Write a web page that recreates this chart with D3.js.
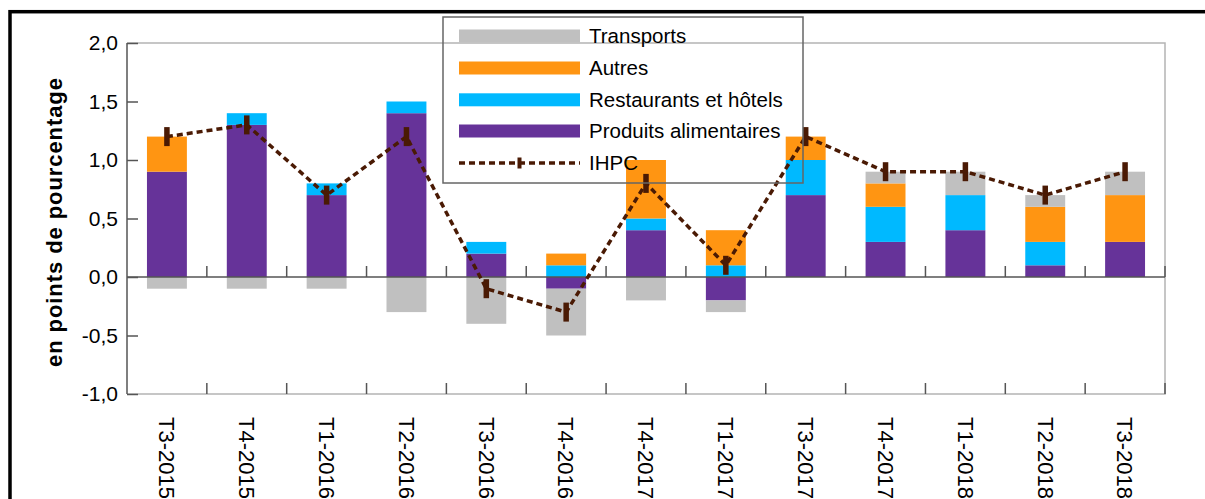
<!DOCTYPE html>
<html>
<head>
<meta charset="utf-8">
<script src="https://cdn.jsdelivr.net/npm/d3@7"></script>
<style>
  html, body { margin: 0; padding: 0; background: #fff; }
  svg { display: block; font-family: "Liberation Sans", Arial, sans-serif; }
</style>
</head>
<body>
<svg id="chart" width="1205" height="499"></svg>
<script>
// ---- data ----
const categories = ["T3-2015","T4-2015","T1-2016","T2-2016","T3-2016","T4-2016","T4-2017","T1-2017","T3-2017","T4-2017","T1-2018","T2-2018","T3-2018"];
const produits    = [0.9, 1.3, 0.7, 1.4, 0.2, -0.1, 0.4, -0.2, 0.7, 0.3, 0.4, 0.1, 0.3];
const restaurants = [0.0, 0.1, 0.1, 0.1, 0.1, 0.1, 0.1, 0.1, 0.3, 0.3, 0.3, 0.2, 0.0];
const autres      = [0.3, 0.0, 0.0, 0.0, 0.0, 0.1, 0.5, 0.3, 0.2, 0.2, 0.0, 0.3, 0.4];
const transports  = [-0.1, -0.1, -0.1, -0.3, -0.4, -0.4, -0.2, -0.1, 0.0, 0.1, 0.2, 0.1, 0.2];
const ihpc        = [1.2, 1.3, 0.7, 1.2, -0.1, -0.3, 0.8, 0.1, 1.2, 0.9, 0.9, 0.7, 0.9];
const yTicks      = [-1.0, -0.5, 0.0, 0.5, 1.0, 1.5, 2.0];
const seriesNames = ["Produits alimentaires", "Restaurants et hôtels", "Autres", "Transports"];
const seriesColors = ["#663399", "#00b9ff", "#ff9512", "#c0c0c0"];
const legendOrder = ["Transports", "Autres", "Restaurants et hôtels", "Produits alimentaires"];
const lineName = "IHPC";
const lineColor = "#4a1a04";

const seriesValues = [produits, restaurants, autres, transports];

// ---- layout ----
const svg = d3.select("#chart");
const pLeft = 127, pRight = 1165, pTop = 43, pBottom = 394;

const x = d3.scaleBand().domain(d3.range(categories.length)).range([pLeft, pRight]).paddingInner(0.5).paddingOuter(0.25);
const y = d3.scaleLinear().domain([-1, 2]).range([pBottom, pTop]);

// outer frame
svg.append("rect").attr("x", 10).attr("y", 11.7).attr("width", 1230).attr("height", 520)
  .attr("fill", "none").attr("stroke", "#000").attr("stroke-width", 3.5);

// plot border (light gray)
svg.append("path")
  .attr("d", `M${pLeft},${pTop}H${pRight}V${pBottom}H${pLeft}`)
  .attr("fill", "none").attr("stroke", "#b4b4b4").attr("stroke-width", 1.5);

// bars (stacked, positives up, negatives down)
const stacks = categories.map((c, i) => {
  let pos = 0, neg = 0;
  return seriesValues.map((vals, s) => {
    const v = vals[i];
    let y0, y1;
    if (v >= 0) { y0 = pos; y1 = pos + v; pos = y1; }
    else { y0 = neg; y1 = neg + v; neg = y1; }
    return { i, s, y0, y1, v };
  });
}).flat().filter(d => d.v !== 0);

svg.append("g").selectAll("rect").data(stacks).join("rect")
  .attr("x", d => x(d.i))
  .attr("width", x.bandwidth())
  .attr("y", d => y(Math.max(d.y0, d.y1)))
  .attr("height", d => Math.abs(y(d.y0) - y(d.y1)))
  .attr("fill", d => seriesColors[d.s]);

// left axis line
svg.append("line").attr("x1", pLeft).attr("x2", pLeft).attr("y1", pTop).attr("y2", pBottom)
  .attr("stroke", "#555").attr("stroke-width", 1.5);
// zero line
svg.append("line").attr("x1", pLeft).attr("x2", pRight).attr("y1", y(0)).attr("y2", y(0))
  .attr("stroke", "#555").attr("stroke-width", 1.5);

// y ticks (inward) and labels
const yAxis = d3.axisRight(y).tickValues(yTicks).tickSize(11)
  .tickFormat(d => d3.format(".1f")(d).replace(".", ",").replace("\u2212", "-"));
const gy = svg.append("g").attr("transform", `translate(${pLeft},0)`).call(yAxis);
gy.select(".domain").remove();
gy.selectAll(".tick line").attr("stroke", "#555").attr("stroke-width", 1.5);
gy.selectAll(".tick text")
  .attr("x", -9).attr("text-anchor", "end")
  .attr("font-size", "21px").attr("fill", "#000")
  .attr("font-family", "Liberation Sans, Arial, sans-serif");

// x boundary ticks (inward from zero line and from bottom)
const boundaryX = d3.range(1, categories.length + 1).map(k => pLeft + k * (pRight - pLeft) / categories.length);
const gt = svg.append("g");
boundaryX.forEach(bx => {
  gt.append("line").attr("x1", bx).attr("x2", bx).attr("y1", y(0)).attr("y2", y(0) - 11)
    .attr("stroke", "#555").attr("stroke-width", 1.5);
  gt.append("line").attr("x1", bx).attr("x2", bx).attr("y1", pBottom).attr("y2", pBottom - 11)
    .attr("stroke", "#555").attr("stroke-width", 1.5);
});

// x labels (rotated 90)
svg.append("g").selectAll("text").data(categories).join("text")
  .attr("transform", (d, i) => `translate(${x(i) + x.bandwidth() / 2},417) rotate(90)`)
  .attr("dy", "0.35em")
  .attr("text-anchor", "start")
  .attr("font-size", "22px")
  .attr("fill", "#000")
  .text(d => d);

// y title
svg.append("text")
  .attr("transform", `translate(62,222.5) rotate(-90)`)
  .attr("text-anchor", "middle")
  .attr("font-size", "22px").attr("font-weight", "bold")
  .attr("textLength", 289).attr("lengthAdjust", "spacing")
  .attr("fill", "#000")
  .text("en points de pourcentage");

// IHPC line
const cx = i => x(i) + x.bandwidth() / 2;
const line = d3.line().x((d, i) => cx(i)).y(d => y(d));
svg.append("path").datum(ihpc).attr("d", line)
  .attr("fill", "none").attr("stroke", lineColor).attr("stroke-width", 3.5)
  .attr("stroke-dasharray", "6,4");
svg.append("g").selectAll("rect").data(ihpc).join("rect")
  .attr("x", (d, i) => cx(i) - 2.75).attr("width", 5.5)
  .attr("y", d => y(d) - 9.5).attr("height", 19)
  .attr("fill", lineColor);

// legend
const lg = svg.append("g");
lg.append("rect").attr("x", 443).attr("y", 17).attr("width", 360).attr("height", 166)
  .attr("fill", "none").attr("stroke", "#666").attr("stroke-width", 1.5);
const rowY = [36, 68, 99.8, 131, 163];
legendOrder.forEach((name, k) => {
  const s = seriesNames.indexOf(name);
  lg.append("rect").attr("x", 459).attr("y", rowY[k] - 6.5).attr("width", 121).attr("height", 13)
    .attr("fill", seriesColors[s]);
  lg.append("text").attr("x", 589).attr("y", rowY[k]).attr("dy", "0.35em")
    .attr("font-size", "20.5px").attr("fill", "#000").text(name);
});
lg.append("line").attr("x1", 459).attr("x2", 580).attr("y1", rowY[4]).attr("y2", rowY[4])
  .attr("stroke", lineColor).attr("stroke-width", 3.5).attr("stroke-dasharray", "6,4");
lg.append("rect").attr("x", 517.5).attr("y", rowY[4] - 5.5).attr("width", 4).attr("height", 11)
  .attr("fill", lineColor);
lg.append("text").attr("x", 589).attr("y", rowY[4]).attr("dy", "0.35em")
  .attr("font-size", "20.5px").attr("fill", "#000").text(lineName);
</script>
</body>
</html>
